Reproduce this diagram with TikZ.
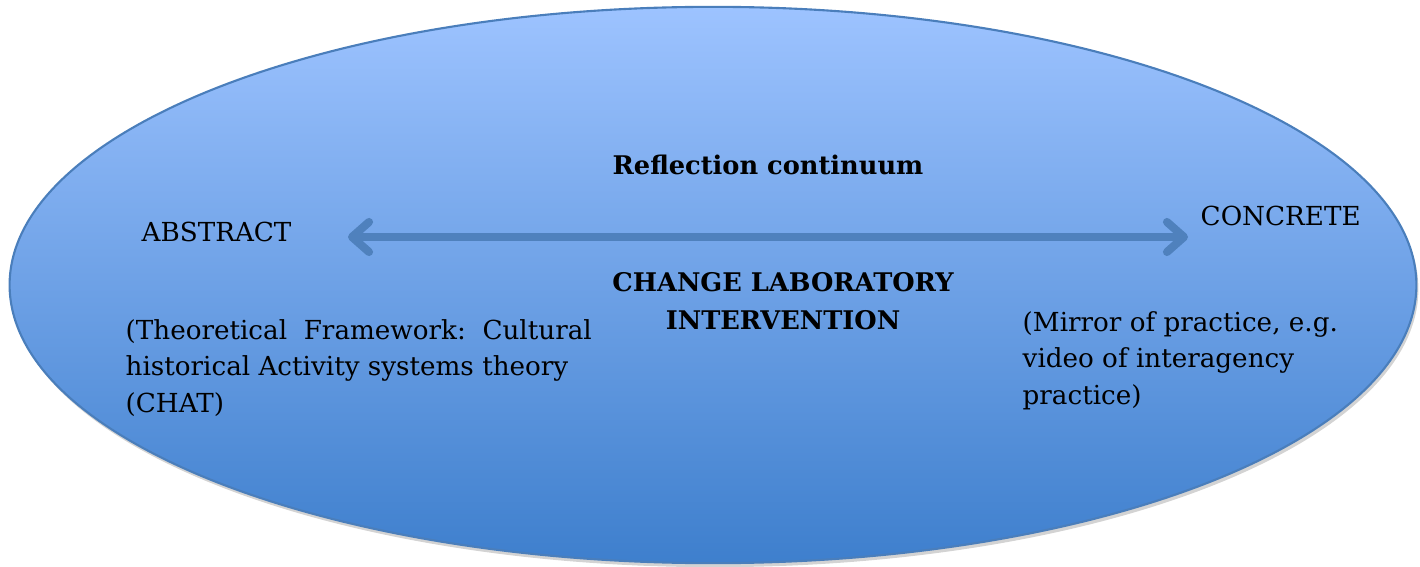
\documentclass[tikz,border=0pt]{standalone}
\usepackage{fontspec}
\setmainfont{DejaVu Serif}
\usetikzlibrary{arrows.meta,shadows}
\definecolor{ovaltop}{HTML}{9DC3FF}
\definecolor{ovalbot}{HTML}{3E7FCD}
\definecolor{ovaledge}{HTML}{4A7EBB}
\definecolor{arrowblue}{HTML}{4F81BD}
\begin{document}
\begin{tikzpicture}[x=0.01cm,y=-0.01cm,
    txt/.style={inner sep=0pt,font=\fontsize{7.45}{10.3}\selectfont,align=left},
    bold/.style={txt,font=\fontsize{7.3}{10.8}\selectfont\bfseries,align=center}]
  \useasboundingbox (0,0) rectangle (1420,567);
  \path[top color=ovaltop,bottom color=ovalbot,draw=ovaledge,line width=0.6pt,
    drop shadow={shadow xshift=0.02cm,shadow yshift=-0.04cm,opacity=0.35}]
    (713,285) ellipse [x radius=7.03cm,y radius=2.78cm];
  \node[bold] (title) at (768,165) {Reflection continuum};
  \node[txt,anchor=west] (abs) at (141,232) {ABSTRACT};
  \node[txt,anchor=west] (con) at (1200,216) {CONCRETE};
  \node[bold] (cl) at (783,301) {CHANGE LABORATORY\\INTERVENTION};
  \node[txt,anchor=north west] (theory) at (125,319)
    {(Theoretical\ \ Framework:\ \ Cultural\\historical Activity systems theory\\(CHAT)};
  \node[txt,anchor=north west] (mirror) at (1022,311)
    {(Mirror of practice, e.g.\\video of interagency\\practice)};
  \coordinate (left end) at (348,237);
  \coordinate (right end) at (1188,237);
  \draw[arrowblue,line width=2.3pt,
    {Straight Barb[round,length=0.17cm,width=0.3cm]}-{Straight Barb[round,length=0.17cm,width=0.3cm]},
    drop shadow={shadow xshift=0.01cm,shadow yshift=-0.03cm,opacity=0.25}]
    (left end) -- (right end);
\end{tikzpicture}
\end{document}
